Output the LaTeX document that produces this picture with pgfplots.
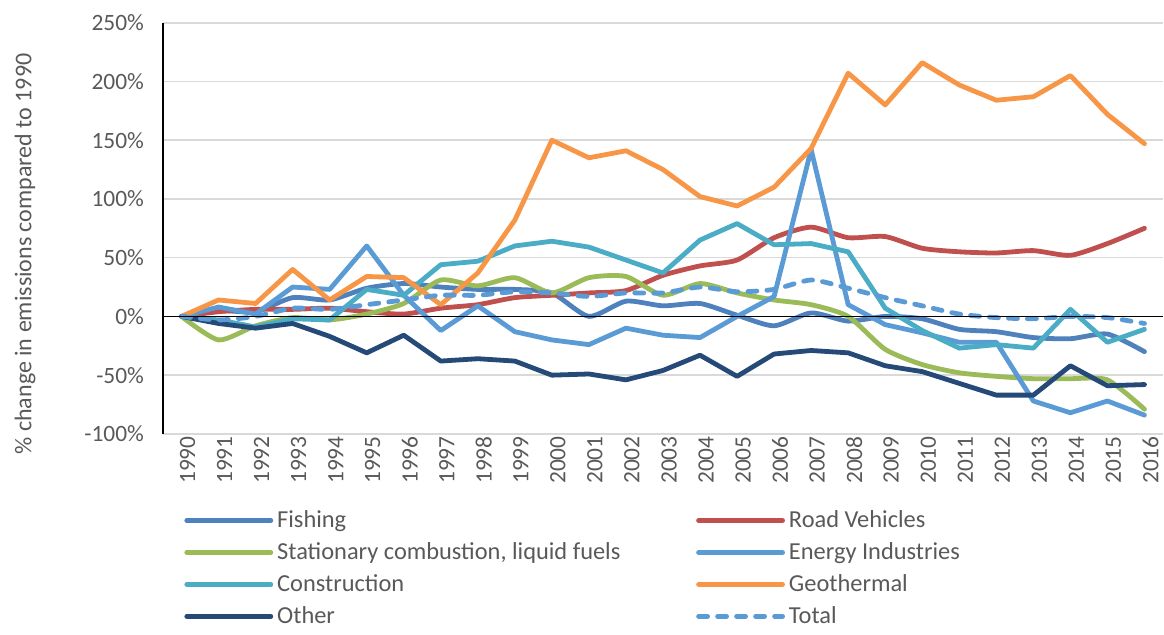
\documentclass[border=0pt]{standalone}
\usepackage{pgfplots}
\pgfplotsset{compat=1.18}
\usepackage{fontspec}
\setmainfont{Carlito}
\definecolor{cFish}{HTML}{4F81BD}
\definecolor{cRoad}{HTML}{C0504D}
\definecolor{cStat}{HTML}{9BBB59}
\definecolor{cEner}{HTML}{5B9BD5}
\definecolor{cCons}{HTML}{4BACC6}
\definecolor{cGeo}{HTML}{F79646}
\definecolor{cOth}{HTML}{254A78}
\definecolor{cTxt}{HTML}{595959}
\definecolor{cGrid}{HTML}{D9D9D9}
\begin{document}
\begin{tikzpicture}
\begin{axis}[
  scale only axis, width=500pt, height=205.6pt,
  xmin=-0.5, xmax=26.5, ymin=-100, ymax=250,
  axis lines*=left,
  x axis line style={draw=none},
  y axis line style={black, line width=0.9pt},
  tick style={draw=none},
  ytick={-100,-50,...,250},
  yticklabel={\pgfmathprintnumber{\tick}\%},
  ymajorgrids, grid style={cGrid, line width=0.8pt},
  xtick={0,...,26},
  xticklabels={1990,1991,1992,1993,1994,1995,1996,1997,1998,1999,2000,2001,2002,2003,2004,2005,2006,2007,2008,2009,2010,2011,2012,2013,2014,2015,2016},
  x tick label style={rotate=90, anchor=east, font=\fontsize{11.7}{13}\selectfont, text=cTxt, inner sep=1pt, yshift=-3pt},
  y tick label style={font=\fontsize{11.7}{13}\selectfont, text=cTxt, xshift=-6pt},
  /pgf/number format/assume math mode=true,
  ylabel={\% change in emissions compared to 1990},
  ylabel style={at={(rel axis cs:-0.138,0.4376)}, anchor=center, font=\fontsize{12}{13}\selectfont, text=cTxt},
  legend columns=2,
  legend cell align=left,
  legend style={at={(rel axis cs:0.015,-0.166)}, anchor=north west, draw=none, fill=none,
    font=\fontsize{12.2}{14}\selectfont, text=cTxt, row sep=2.0pt,
    nodes={inner xsep=2pt, inner ysep=2pt}},
  legend image code/.code={\draw[#1] (0pt,0pt) -- (42pt,0pt);},
  every axis plot/.append style={line width=2.4pt, line join=round, line cap=round},
  clip=false,
]
\addplot[cFish, smooth, tension=0.4] coordinates {(0,0)(1,5)(2,4)(3,16)(4,14)(5,24)(6,28)(7,25)(8,23)(9,23)(10,20)(11,0)(12,13)(13,9)(14,11)(15,1)(16,-8)(17,3)(18,-4)(19,0)(20,-2)(21,-11)(22,-13)(23,-18)(24,-19)(25,-15)(26,-30)};
\addlegendentry{\makebox[207.5pt][l]{Fishing}}
\addplot[cRoad, smooth, tension=0.4] coordinates {(0,0)(1,4)(2,6)(3,6)(4,7)(5,4)(6,2)(7,7)(8,10)(9,16)(10,18)(11,20)(12,22)(13,35)(14,43)(15,48)(16,67)(17,76)(18,67)(19,68)(20,58)(21,55)(22,54)(23,56)(24,52)(25,62)(26,75)};
\addlegendentry{Road Vehicles}
\addplot[cStat, smooth, tension=0.4] coordinates {(0,0)(1,-20)(2,-8)(3,-1)(4,-3)(5,2)(6,11)(7,31)(8,26)(9,33)(10,20)(11,33)(12,34)(13,18)(14,28)(15,20)(16,14)(17,10)(18,0)(19,-28)(20,-41)(21,-48)(22,-51)(23,-53)(24,-53)(25,-54)(26,-79)};
\addlegendentry{\makebox[207.5pt][l]{Stationary combustion, liquid fuels}}
\addplot[cEner] coordinates {(0,0)(1,8)(2,2)(3,25)(4,23)(5,60)(6,18)(7,-12)(8,9)(9,-13)(10,-20)(11,-24)(12,-10)(13,-16)(14,-18)(15,0)(16,17)(17,142)(18,10)(19,-7)(20,-14)(21,-22)(22,-22)(23,-72)(24,-82)(25,-72)(26,-84)};
\addlegendentry{Energy Industries}
\addplot[cCons] coordinates {(0,0)(1,-3)(2,-9)(3,-2)(4,-3)(5,23)(6,18)(7,44)(8,47)(9,60)(10,64)(11,59)(12,48)(13,37)(14,65)(15,79)(16,61)(17,62)(18,55)(19,7)(20,-12)(21,-27)(22,-24)(23,-27)(24,6)(25,-22)(26,-11)};
\addlegendentry{\makebox[207.5pt][l]{Construction}}
\addplot[cGeo] coordinates {(0,0)(1,14)(2,11)(3,40)(4,14)(5,34)(6,33)(7,10)(8,37)(9,82)(10,150)(11,135)(12,141)(13,125)(14,102)(15,94)(16,110)(17,143)(18,207)(19,180)(20,216)(21,197)(22,184)(23,187)(24,205)(25,172)(26,147)};
\addlegendentry{Geothermal}
\addplot[cOth] coordinates {(0,0)(1,-6)(2,-10)(3,-6)(4,-17)(5,-31)(6,-16)(7,-38)(8,-36)(9,-38)(10,-50)(11,-49)(12,-54)(13,-46)(14,-33)(15,-51)(16,-32)(17,-29)(18,-31)(19,-42)(20,-47)(21,-57)(22,-67)(23,-67)(24,-42)(25,-59)(26,-58)};
\addlegendentry{\makebox[207.5pt][l]{Other}}
\addplot[cEner, smooth, tension=0.4, dash pattern=on 4.5pt off 5pt] coordinates {(0,0)(1,-3)(2,0)(3,7)(4,6)(5,10)(6,14)(7,18)(8,18)(9,21)(10,20)(11,17)(12,20)(13,20)(14,25)(15,21)(16,23)(17,31)(18,24)(19,16)(20,9)(21,2)(22,-1)(23,-2)(24,0)(25,-1)(26,-6)};
\addlegendentry{Total}
\addplot[black, line width=0.9pt, line cap=butt, forget plot] coordinates {(-0.5,0) (26.5,0)};
\end{axis}
\path[use as bounding box] (-81.5pt,-97pt) rectangle (500.5pt,216.95pt);
\end{tikzpicture}
\end{document}
